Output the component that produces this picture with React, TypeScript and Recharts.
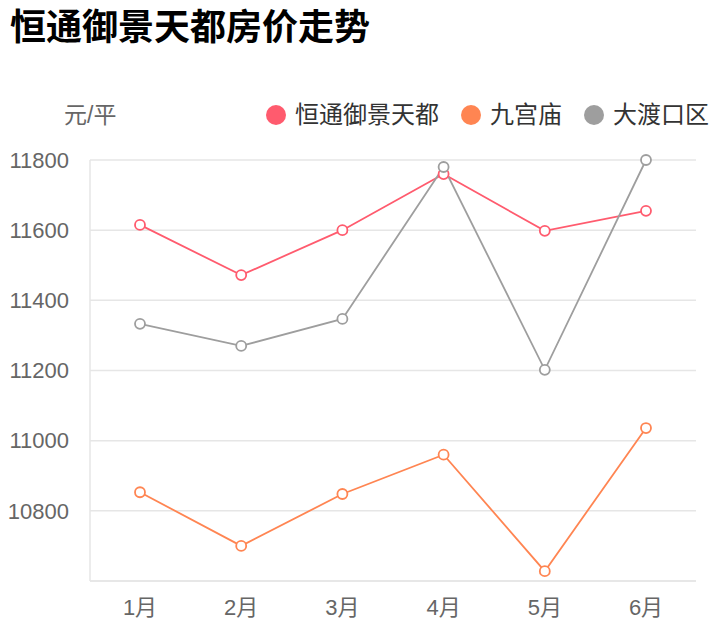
import { LineChart, Line, XAxis, YAxis, CartesianGrid } from "recharts";

const months = ["1月", "2月", "3月", "4月", "5月", "6月"];
const hengtong = [11615, 11472, 11600, 11760, 11598, 11655];
const jiugongmiao = [10853, 10700, 10848, 10960, 10628, 11036];
const dadukou = [11333, 11270, 11347, 11780, 11202, 11800];
const yTicks = [10600, 10800, 11000, 11200, 11400, 11600, 11800];

const series = [
  { key: "hengtong", name: "恒通御景天都", color: "#ff5b6e" },
  { key: "jiugongmiao", name: "九宫庙", color: "#ff8552" },
  { key: "dadukou", name: "大渡口区", color: "#9e9e9e" },
];

const data = months.map((m, i) => ({
  month: m,
  hengtong: hengtong[i],
  jiugongmiao: jiugongmiao[i],
  dadukou: dadukou[i],
}));

const font = "'Liberation Sans', Arial, 'Noto Sans CJK SC', sans-serif";

export default function App() {
  return (
    <div style={{ position: "relative", width: 718, height: 640, fontFamily: font, background: "#fff", overflow: "hidden" }}>
      <style>{"body{margin:0}"}</style>
      <div style={{ position: "absolute", left: 10, top: 6, fontSize: 36, fontWeight: 700, color: "#000", lineHeight: "44px", whiteSpace: "nowrap" }}>
        恒通御景天都房价走势
      </div>
      <div style={{ position: "absolute", left: 64, top: 102, fontSize: 23, color: "#666", lineHeight: "26px" }}>元/平</div>
      <div style={{ position: "absolute", left: 266, top: 102, width: 460, display: "flex", alignItems: "center", fontSize: 24, color: "#333", lineHeight: "26px", whiteSpace: "nowrap" }}>
        {series.map(s => (
          <div key={s.key} style={{ display: "flex", alignItems: "center", marginRight: 22, flexShrink: 0 }}>
            <span style={{ width: 20, height: 20, borderRadius: "50%", background: s.color, marginRight: 9, display: "inline-block", flexShrink: 0 }} />
            <span>{s.name}</span>
          </div>
        ))}
      </div>
      <div style={{ position: "absolute", left: 0, top: 0 }}>
        <LineChart width={718} height={640} data={data} margin={{ top: 160, right: 22, left: 0, bottom: 0 }}>
          <CartesianGrid vertical={false} stroke="#e6e6e6" strokeWidth={1.5} />
          <XAxis
            dataKey="month"
            padding={{ left: 50, right: 50 }}
            axisLine={{ stroke: "#e6e6e6", strokeWidth: 1.5 }}
            tickLine={false}
            tick={{ fill: "#666", fontSize: 22, fontFamily: font }}
            tickMargin={12}
            height={59}
          />
          <YAxis
            domain={[10600, 11800]}
            ticks={yTicks}
            interval={0}
            axisLine={{ stroke: "#e6e6e6", strokeWidth: 1.5 }}
            tickLine={false}
            tick={{ fill: "#666", fontSize: 22, fontFamily: font }}
            tickFormatter={(v: number) => (v === 10600 ? "" : String(v))}
            tickMargin={15}
            width={90}
          />
          {series.map(s => (
            <Line
              key={s.key}
              type="linear"
              dataKey={s.key}
              name={s.name}
              stroke={s.color}
              strokeWidth={1.8}
              dot={{ r: 5, fill: "#fff", stroke: s.color, strokeWidth: 1.8 }}
              isAnimationActive={false}
            />
          ))}
        </LineChart>
      </div>
    </div>
  );
}
